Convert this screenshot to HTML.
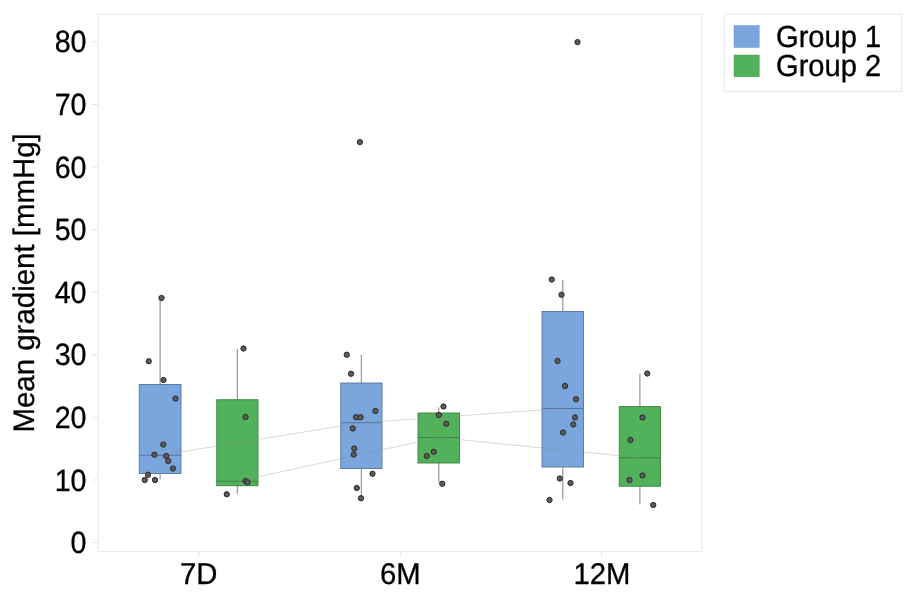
<!DOCTYPE html>
<html><head><meta charset="utf-8"><title>Mean gradient</title>
<style>
html,body{margin:0;padding:0;background:#fff;}
svg{display:block;}
text{font-family:"Liberation Sans",Arial,sans-serif;fill:#000;text-rendering:geometricPrecision;}
</style></head><body>
<svg width="924" height="596" viewBox="0 0 924 596">
<rect width="924" height="596" fill="#fff"/>
<rect x="98" y="14.5" width="604" height="537" fill="#fff" stroke="#e9e9e9" stroke-width="1.1"/>
<line x1="92.5" x2="98" y1="542.55" y2="542.55" stroke="#e3e3e3" stroke-width="1"/>
<text transform="translate(86.50,553.10) scale(1,1.075)" font-size="28.6" text-anchor="end" stroke="#000" stroke-width="0.3">0</text>
<line x1="92.5" x2="98" y1="479.97" y2="479.97" stroke="#e3e3e3" stroke-width="1"/>
<text transform="translate(86.50,490.52) scale(1,1.075)" font-size="28.6" text-anchor="end" stroke="#000" stroke-width="0.3">10</text>
<line x1="92.5" x2="98" y1="417.39" y2="417.39" stroke="#e3e3e3" stroke-width="1"/>
<text transform="translate(86.50,427.94) scale(1,1.075)" font-size="28.6" text-anchor="end" stroke="#000" stroke-width="0.3">20</text>
<line x1="92.5" x2="98" y1="354.81" y2="354.81" stroke="#e3e3e3" stroke-width="1"/>
<text transform="translate(86.50,365.36) scale(1,1.075)" font-size="28.6" text-anchor="end" stroke="#000" stroke-width="0.3">30</text>
<line x1="92.5" x2="98" y1="292.23" y2="292.23" stroke="#e3e3e3" stroke-width="1"/>
<text transform="translate(86.50,302.78) scale(1,1.075)" font-size="28.6" text-anchor="end" stroke="#000" stroke-width="0.3">40</text>
<line x1="92.5" x2="98" y1="229.65" y2="229.65" stroke="#e3e3e3" stroke-width="1"/>
<text transform="translate(86.50,240.20) scale(1,1.075)" font-size="28.6" text-anchor="end" stroke="#000" stroke-width="0.3">50</text>
<line x1="92.5" x2="98" y1="167.07" y2="167.07" stroke="#e3e3e3" stroke-width="1"/>
<text transform="translate(86.50,177.62) scale(1,1.075)" font-size="28.6" text-anchor="end" stroke="#000" stroke-width="0.3">60</text>
<line x1="92.5" x2="98" y1="104.49" y2="104.49" stroke="#e3e3e3" stroke-width="1"/>
<text transform="translate(86.50,115.04) scale(1,1.075)" font-size="28.6" text-anchor="end" stroke="#000" stroke-width="0.3">70</text>
<line x1="92.5" x2="98" y1="41.91" y2="41.91" stroke="#e3e3e3" stroke-width="1"/>
<text transform="translate(86.50,52.46) scale(1,1.075)" font-size="28.6" text-anchor="end" stroke="#000" stroke-width="0.3">80</text>
<line x1="199" x2="199" y1="551.5" y2="557" stroke="#e3e3e3" stroke-width="1"/>
<text transform="translate(198.80,584.00) scale(1,1.025)" font-size="29.3" text-anchor="middle" stroke="#000" stroke-width="0.3">7D</text>
<line x1="400.3" x2="400.3" y1="551.5" y2="557" stroke="#e3e3e3" stroke-width="1"/>
<text transform="translate(400.40,584.00) scale(1,1.025)" font-size="29.3" text-anchor="middle" stroke="#000" stroke-width="0.3">6M</text>
<line x1="601.6" x2="601.6" y1="551.5" y2="557" stroke="#e3e3e3" stroke-width="1"/>
<text transform="translate(601.90,584.00) scale(1,1.025)" font-size="29.3" text-anchor="middle" stroke="#000" stroke-width="0.3">12M</text>
<text transform="translate(34.40,282.90) rotate(-90) scale(1,1.01)" font-size="29.45" text-anchor="middle" stroke="#000" stroke-width="0.3">Mean gradient [mmHg]</text>
<line x1="160.12" x2="160.12" y1="298.0" y2="384.5" stroke="#9e9e9e" stroke-width="1.3"/>
<line x1="160.12" x2="160.12" y1="473.5" y2="479.5" stroke="#9e9e9e" stroke-width="1.3"/>
<rect x="139.25" y="384.5" width="41.75" height="89.0" fill="#7aa6dd" stroke="#56769f" stroke-width="0.9"/>
<line x1="139.25" x2="181.0" y1="455.25" y2="455.25" stroke="#56769f" stroke-width="1"/>
<line x1="237.38" x2="237.38" y1="348.75" y2="399.75" stroke="#9e9e9e" stroke-width="1.3"/>
<line x1="237.38" x2="237.38" y1="485.75" y2="494.0" stroke="#9e9e9e" stroke-width="1.3"/>
<rect x="216.75" y="399.75" width="41.25" height="86.0" fill="#52b15b" stroke="#3a8443" stroke-width="0.9"/>
<line x1="216.75" x2="258.0" y1="481.25" y2="481.25" stroke="#3a8443" stroke-width="1"/>
<line x1="361.38" x2="361.38" y1="355.0" y2="383.0" stroke="#9e9e9e" stroke-width="1.3"/>
<line x1="361.38" x2="361.38" y1="468.5" y2="498.0" stroke="#9e9e9e" stroke-width="1.3"/>
<rect x="340.75" y="383.0" width="41.25" height="85.5" fill="#7aa6dd" stroke="#56769f" stroke-width="0.9"/>
<line x1="340.75" x2="382.0" y1="422.75" y2="422.75" stroke="#56769f" stroke-width="1"/>
<line x1="438.75" x2="438.75" y1="407.5" y2="413.0" stroke="#9e9e9e" stroke-width="1.3"/>
<line x1="438.75" x2="438.75" y1="463.0" y2="482.5" stroke="#9e9e9e" stroke-width="1.3"/>
<rect x="418.0" y="413.0" width="41.5" height="50.0" fill="#52b15b" stroke="#3a8443" stroke-width="0.9"/>
<line x1="418.0" x2="459.5" y1="437.5" y2="437.5" stroke="#3a8443" stroke-width="1"/>
<line x1="562.75" x2="562.75" y1="280.0" y2="311.5" stroke="#9e9e9e" stroke-width="1.3"/>
<line x1="562.75" x2="562.75" y1="467.0" y2="499.5" stroke="#9e9e9e" stroke-width="1.3"/>
<rect x="542.0" y="311.5" width="41.5" height="155.5" fill="#7aa6dd" stroke="#56769f" stroke-width="0.9"/>
<line x1="542.0" x2="583.5" y1="408.5" y2="408.5" stroke="#56769f" stroke-width="1"/>
<line x1="639.88" x2="639.88" y1="373.75" y2="406.6" stroke="#9e9e9e" stroke-width="1.3"/>
<line x1="639.88" x2="639.88" y1="486.25" y2="504.5" stroke="#9e9e9e" stroke-width="1.3"/>
<rect x="619.25" y="406.6" width="41.25" height="79.64999999999998" fill="#52b15b" stroke="#3a8443" stroke-width="0.9"/>
<line x1="619.25" x2="660.5" y1="457.75" y2="457.75" stroke="#3a8443" stroke-width="1"/>
<polyline points="160.12,455.25 361.38,422.75 562.75,408.50" fill="none" stroke="#8c8c8c" stroke-opacity="0.34" stroke-width="1"/>
<polyline points="237.38,481.25 438.75,437.50 639.88,457.75" fill="none" stroke="#8c8c8c" stroke-opacity="0.34" stroke-width="1"/>
<circle cx="161.5" cy="298" r="2.65" fill="#5b5b5b" stroke="#2e2c2a" stroke-width="1"/>
<circle cx="148.75" cy="361.25" r="2.65" fill="#5b5b5b" stroke="#2e2c2a" stroke-width="1"/>
<circle cx="163.5" cy="380" r="2.65" fill="#5b5b5b" stroke="#2e2c2a" stroke-width="1"/>
<circle cx="175.5" cy="398.6" r="2.65" fill="#5b5b5b" stroke="#2e2c2a" stroke-width="1"/>
<circle cx="163.25" cy="444.5" r="2.65" fill="#5b5b5b" stroke="#2e2c2a" stroke-width="1"/>
<circle cx="154.5" cy="454.75" r="2.65" fill="#5b5b5b" stroke="#2e2c2a" stroke-width="1"/>
<circle cx="166.25" cy="456" r="2.65" fill="#5b5b5b" stroke="#2e2c2a" stroke-width="1"/>
<circle cx="168.25" cy="461" r="2.65" fill="#5b5b5b" stroke="#2e2c2a" stroke-width="1"/>
<circle cx="173" cy="468.5" r="2.65" fill="#5b5b5b" stroke="#2e2c2a" stroke-width="1"/>
<circle cx="148" cy="474.75" r="2.65" fill="#5b5b5b" stroke="#2e2c2a" stroke-width="1"/>
<circle cx="144.75" cy="480" r="2.65" fill="#5b5b5b" stroke="#2e2c2a" stroke-width="1"/>
<circle cx="155" cy="480" r="2.65" fill="#5b5b5b" stroke="#2e2c2a" stroke-width="1"/>
<circle cx="243.5" cy="348.5" r="2.65" fill="#5b5b5b" stroke="#2e2c2a" stroke-width="1"/>
<circle cx="245.5" cy="417" r="2.65" fill="#5b5b5b" stroke="#2e2c2a" stroke-width="1"/>
<circle cx="245.5" cy="481" r="2.65" fill="#5b5b5b" stroke="#2e2c2a" stroke-width="1"/>
<circle cx="247.5" cy="482.25" r="2.65" fill="#5b5b5b" stroke="#2e2c2a" stroke-width="1"/>
<circle cx="226.75" cy="494.25" r="2.65" fill="#5b5b5b" stroke="#2e2c2a" stroke-width="1"/>
<circle cx="359.9" cy="142.1" r="2.65" fill="#5b5b5b" stroke="#2e2c2a" stroke-width="1"/>
<circle cx="346.75" cy="354.75" r="2.65" fill="#5b5b5b" stroke="#2e2c2a" stroke-width="1"/>
<circle cx="351" cy="373.75" r="2.65" fill="#5b5b5b" stroke="#2e2c2a" stroke-width="1"/>
<circle cx="375.5" cy="411" r="2.65" fill="#5b5b5b" stroke="#2e2c2a" stroke-width="1"/>
<circle cx="356" cy="417.25" r="2.65" fill="#5b5b5b" stroke="#2e2c2a" stroke-width="1"/>
<circle cx="360.5" cy="417.25" r="2.65" fill="#5b5b5b" stroke="#2e2c2a" stroke-width="1"/>
<circle cx="352.75" cy="428.5" r="2.65" fill="#5b5b5b" stroke="#2e2c2a" stroke-width="1"/>
<circle cx="354.25" cy="448.5" r="2.65" fill="#5b5b5b" stroke="#2e2c2a" stroke-width="1"/>
<circle cx="353.75" cy="454.5" r="2.65" fill="#5b5b5b" stroke="#2e2c2a" stroke-width="1"/>
<circle cx="372.5" cy="473.75" r="2.65" fill="#5b5b5b" stroke="#2e2c2a" stroke-width="1"/>
<circle cx="356.75" cy="488" r="2.65" fill="#5b5b5b" stroke="#2e2c2a" stroke-width="1"/>
<circle cx="361" cy="498.25" r="2.65" fill="#5b5b5b" stroke="#2e2c2a" stroke-width="1"/>
<circle cx="443.5" cy="406.5" r="2.65" fill="#5b5b5b" stroke="#2e2c2a" stroke-width="1"/>
<circle cx="438.75" cy="415" r="2.65" fill="#5b5b5b" stroke="#2e2c2a" stroke-width="1"/>
<circle cx="446.25" cy="423.75" r="2.65" fill="#5b5b5b" stroke="#2e2c2a" stroke-width="1"/>
<circle cx="433.75" cy="451.75" r="2.65" fill="#5b5b5b" stroke="#2e2c2a" stroke-width="1"/>
<circle cx="426.75" cy="456" r="2.65" fill="#5b5b5b" stroke="#2e2c2a" stroke-width="1"/>
<circle cx="442.25" cy="483.75" r="2.65" fill="#5b5b5b" stroke="#2e2c2a" stroke-width="1"/>
<circle cx="577.5" cy="42.1" r="2.65" fill="#5b5b5b" stroke="#2e2c2a" stroke-width="1"/>
<circle cx="551.75" cy="279.5" r="2.65" fill="#5b5b5b" stroke="#2e2c2a" stroke-width="1"/>
<circle cx="561.5" cy="294.75" r="2.65" fill="#5b5b5b" stroke="#2e2c2a" stroke-width="1"/>
<circle cx="557.5" cy="361" r="2.65" fill="#5b5b5b" stroke="#2e2c2a" stroke-width="1"/>
<circle cx="565" cy="386" r="2.65" fill="#5b5b5b" stroke="#2e2c2a" stroke-width="1"/>
<circle cx="576" cy="399.25" r="2.65" fill="#5b5b5b" stroke="#2e2c2a" stroke-width="1"/>
<circle cx="575" cy="417.5" r="2.65" fill="#5b5b5b" stroke="#2e2c2a" stroke-width="1"/>
<circle cx="573.25" cy="424.5" r="2.65" fill="#5b5b5b" stroke="#2e2c2a" stroke-width="1"/>
<circle cx="563" cy="432.5" r="2.65" fill="#5b5b5b" stroke="#2e2c2a" stroke-width="1"/>
<circle cx="559.75" cy="478.5" r="2.65" fill="#5b5b5b" stroke="#2e2c2a" stroke-width="1"/>
<circle cx="570.5" cy="483" r="2.65" fill="#5b5b5b" stroke="#2e2c2a" stroke-width="1"/>
<circle cx="549.5" cy="500" r="2.65" fill="#5b5b5b" stroke="#2e2c2a" stroke-width="1"/>
<circle cx="647.25" cy="373.5" r="2.65" fill="#5b5b5b" stroke="#2e2c2a" stroke-width="1"/>
<circle cx="642.5" cy="417.5" r="2.65" fill="#5b5b5b" stroke="#2e2c2a" stroke-width="1"/>
<circle cx="630.5" cy="440" r="2.65" fill="#5b5b5b" stroke="#2e2c2a" stroke-width="1"/>
<circle cx="642.5" cy="475.5" r="2.65" fill="#5b5b5b" stroke="#2e2c2a" stroke-width="1"/>
<circle cx="629.5" cy="480" r="2.65" fill="#5b5b5b" stroke="#2e2c2a" stroke-width="1"/>
<circle cx="653.25" cy="505" r="2.65" fill="#5b5b5b" stroke="#2e2c2a" stroke-width="1"/>
<rect x="724.3" y="14.3" width="177.4" height="77.2" fill="#fff" stroke="#e6e6e6" stroke-width="1"/>
<rect x="734" y="25.5" width="25.2" height="22" fill="#7aa6dd" stroke="#6f98cc" stroke-width="0.5"/>
<rect x="734" y="55" width="25.2" height="21.8" fill="#52b15b" stroke="#479e50" stroke-width="0.5"/>
<text transform="translate(776.00,47.40) scale(1,1.05)" font-size="29.1" text-anchor="start" stroke="#000" stroke-width="0.3">Group 1</text>
<text transform="translate(776.00,76.20) scale(1,1.05)" font-size="29.1" text-anchor="start" stroke="#000" stroke-width="0.3">Group 2</text>
</svg>
</body></html>
